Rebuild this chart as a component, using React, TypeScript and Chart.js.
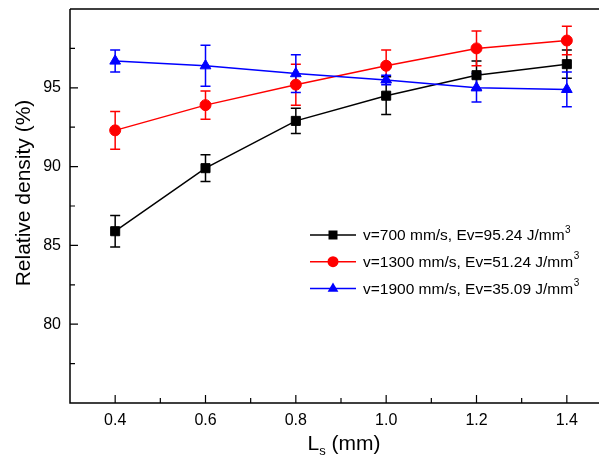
import React, { useEffect, useRef } from 'react';
import { Chart, registerables } from 'chart.js';

Chart.register(...registerables);

const xValues = [0.4, 0.6, 0.8, 1.0, 1.2, 1.4];
const v700 = [85.9, 89.9, 92.9, 94.5, 95.8, 96.5];
const v700Err = [1.0, 0.85, 0.8, 1.2, 0.9, 0.9];
const v1300 = [92.3, 93.9, 95.2, 96.4, 97.5, 98.0];
const v1300Err = [1.2, 0.9, 1.3, 1.0, 1.1, 0.9];
const v1900 = [96.7, 96.4, 95.9, 95.5, 95.0, 94.9];
const v1900Err = [0.7, 1.3, 1.2, 0.3, 0.9, 1.1];

const seriesLabels = ['v=700 mm/s, Ev=95.24 J/mm', 'v=1300 mm/s, Ev=51.24 J/mm', 'v=1900 mm/s, Ev=35.09 J/mm'];
const seriesColors = ['#000000', '#ff0000', '#0000ff'];
const seriesShapes = ['rect', 'circle', 'triangle'];

const xTickValues = [0.4, 0.6, 0.8, 1.0, 1.2, 1.4];
const xMinorTicks = [0.5, 0.7, 0.9, 1.1, 1.3];
const yTickValues = [80, 85, 90, 95];
const yMinorTicks = [77.5, 82.5, 87.5, 92.5, 97.5];

const FONT = "'Liberation Sans', Arial, sans-serif";

const seriesValues = [v700, v1300, v1900];
const seriesErrors = [v700Err, v1300Err, v1900Err];

function drawMarker(ctx: CanvasRenderingContext2D, shape: string, x: number, y: number, color: string) {
  ctx.save();
  ctx.fillStyle = color;
  ctx.beginPath();
  if (shape === 'rect') {
    ctx.rect(x - 4.5, y - 4.5, 9, 9);
  } else if (shape === 'circle') {
    ctx.arc(x, y, 5.5, 0, Math.PI * 2);
  } else {
    ctx.moveTo(x, y - 6);
    ctx.lineTo(x + 5.4, y + 3.4);
    ctx.lineTo(x - 5.4, y + 3.4);
    ctx.closePath();
  }
  ctx.fill();
  ctx.restore();
}

const decorPlugin = {
  id: 'decor',
  beforeDatasetsDraw(chart: any) {
    const ctx: CanvasRenderingContext2D = chart.ctx;
    const xs = chart.scales.x;
    const ys = chart.scales.y;
    ctx.save();
    seriesValues.forEach((vals, s) => {
      ctx.strokeStyle = seriesColors[s];
      ctx.lineWidth = 1.5;
      vals.forEach((v, i) => {
        const px = xs.getPixelForValue(xValues[i]);
        const top = ys.getPixelForValue(v + seriesErrors[s][i]);
        const bot = ys.getPixelForValue(v - seriesErrors[s][i]);
        ctx.beginPath();
        ctx.moveTo(px, top);
        ctx.lineTo(px, bot);
        ctx.moveTo(px - 5, top);
        ctx.lineTo(px + 5, top);
        ctx.moveTo(px - 5, bot);
        ctx.lineTo(px + 5, bot);
        ctx.stroke();
      });
    });
    ctx.restore();
  },
  afterDraw(chart: any) {
    const ctx: CanvasRenderingContext2D = chart.ctx;
    const area = chart.chartArea;
    const xs = chart.scales.x;
    const ys = chart.scales.y;
    ctx.save();
    // axes frame
    ctx.strokeStyle = '#000';
    ctx.lineWidth = 1.5;
    ctx.beginPath();
    ctx.moveTo(area.left, area.top);
    ctx.lineTo(area.left, area.bottom);
    ctx.lineTo(area.right, area.bottom);
    ctx.moveTo(area.left, area.top);
    ctx.lineTo(area.right, area.top);
    ctx.stroke();
    // ticks
    ctx.lineWidth = 1.2;
    ctx.beginPath();
    xTickValues.forEach((t) => {
      const p = xs.getPixelForValue(t);
      ctx.moveTo(p, area.bottom);
      ctx.lineTo(p, area.bottom - 8);
    });
    xMinorTicks.forEach((t) => {
      const p = xs.getPixelForValue(t);
      ctx.moveTo(p, area.bottom);
      ctx.lineTo(p, area.bottom - 5);
    });
    yTickValues.forEach((t) => {
      const p = ys.getPixelForValue(t);
      ctx.moveTo(area.left, p);
      ctx.lineTo(area.left + 8, p);
    });
    yMinorTicks.forEach((t) => {
      const p = ys.getPixelForValue(t);
      ctx.moveTo(area.left, p);
      ctx.lineTo(area.left + 5, p);
    });
    ctx.stroke();

    // y title
    ctx.fillStyle = '#000';
    ctx.font = `21px ${FONT}`;
    ctx.textAlign = 'center';
    ctx.textBaseline = 'middle';
    ctx.save();
    ctx.translate(24, 193);
    ctx.rotate(-Math.PI / 2);
    ctx.fillText('Relative density (%)', 0, 0);
    ctx.restore();

    // x title with subscript
    ctx.textAlign = 'left';
    ctx.textBaseline = 'alphabetic';
    const baseY = 450;
    ctx.font = `21px ${FONT}`;
    const w1 = ctx.measureText('L').width;
    ctx.font = `13px ${FONT}`;
    const w2 = ctx.measureText('s').width;
    ctx.font = `21px ${FONT}`;
    const w3 = ctx.measureText(' (mm)').width;
    const total = w1 + w2 + w3;
    const startX = 344 - total / 2;
    ctx.fillText('L', startX, baseY);
    ctx.font = `13px ${FONT}`;
    ctx.fillText('s', startX + w1, baseY + 5);
    ctx.font = `21px ${FONT}`;
    ctx.fillText(' (mm)', startX + w1 + w2, baseY);

    // legend
    seriesLabels.forEach((label, i) => {
      const y = 235 + i * 26.7;
      ctx.strokeStyle = seriesColors[i];
      ctx.lineWidth = 1.5;
      ctx.beginPath();
      ctx.moveTo(310, y);
      ctx.lineTo(356, y);
      ctx.stroke();
      drawMarker(ctx, seriesShapes[i], 333, y, seriesColors[i]);
      ctx.fillStyle = '#000';
      ctx.font = `15.5px ${FONT}`;
      ctx.textBaseline = 'middle';
      ctx.textAlign = 'left';
      ctx.fillText(label, 363, y + 1);
      const lw = ctx.measureText(label).width;
      ctx.font = `10px ${FONT}`;
      ctx.fillText('3', 363 + lw + 0.5, y - 5);
    });
    ctx.restore();
  },
};

export default function App() {
  const canvasRef = useRef<HTMLCanvasElement | null>(null);

  useEffect(() => {
    if (!canvasRef.current) return;
    const datasets = seriesValues.map((vals, s) => ({
      label: seriesLabels[s],
      data: vals.map((v, i) => ({ x: xValues[i], y: v })),
      borderColor: seriesColors[s],
      backgroundColor: seriesColors[s],
      pointBackgroundColor: seriesColors[s],
      pointBorderColor: seriesColors[s],
      pointStyle: seriesShapes[s] as any,
      pointRadius: s === 0 ? 6.4 : s === 1 ? 5.5 : 6.2,
      pointBorderWidth: 1,
      borderWidth: 1.5,
      showLine: true,
      tension: 0,
      order: 2 - s,
    }));
    const chart = new Chart(canvasRef.current, {
      type: 'line',
      data: { datasets },
      plugins: [decorPlugin],
      options: {
        animation: false,
        responsive: false,
        devicePixelRatio: 1,
        layout: { padding: { left: 0, top: 9, right: 8, bottom: 0 } },
        plugins: { legend: { display: false }, tooltip: { enabled: false } },
        scales: {
          x: {
            type: 'linear',
            min: 0.3,
            max: 1.5,
            grid: { display: false, drawTicks: false },
            border: { display: false },
            afterBuildTicks: (scale: any) => {
              scale.ticks = xTickValues.map((v) => ({ value: v }));
            },
            afterFit: (scale: any) => {
              scale.height = 54;
              scale.paddingLeft = 0;
              scale.paddingRight = 0;
            },
            ticks: {
              padding: 8,
              color: '#000',
              font: { family: FONT, size: 16 },
              callback: (v: any) => Number(v).toFixed(1),
            },
          },
          y: {
            type: 'linear',
            min: 75,
            max: 100,
            grid: { display: false, drawTicks: false },
            border: { display: false },
            afterBuildTicks: (scale: any) => {
              scale.ticks = yTickValues.map((v) => ({ value: v }));
            },
            afterFit: (scale: any) => {
              scale.width = 70;
              scale.paddingTop = 0;
              scale.paddingBottom = 0;
            },
            ticks: {
              padding: 9,
              color: '#000',
              font: { family: FONT, size: 16 },
              callback: (v: any) => String(v),
            },
          },
        },
      },
    });
    return () => chart.destroy();
  }, []);

  return (
    <div style={{ position: 'fixed', left: 0, top: 0, width: 599, height: 457, overflow: 'hidden', background: '#fff' }}>
      <canvas ref={canvasRef} width={620} height={457} style={{ display: 'block' }} />
    </div>
  );
}
